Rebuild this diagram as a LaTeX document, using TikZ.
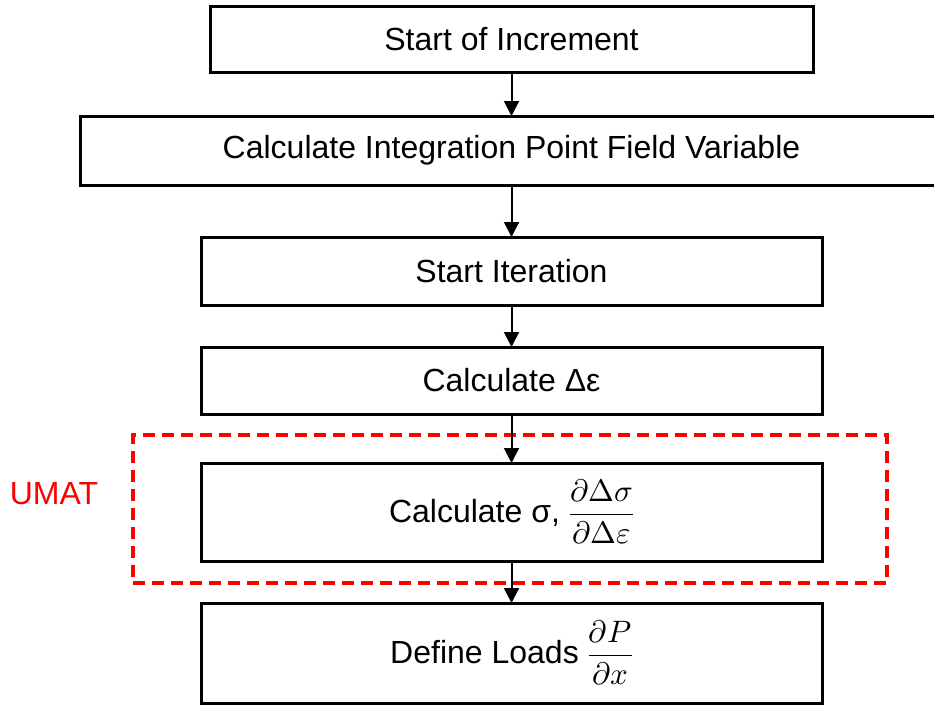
\documentclass[tikz,border=0pt]{standalone}
\usepackage{fontspec}
\usepackage{unicode-math}
\setmainfont{Liberation Sans}
\setmathfont{Latin Modern Math}
\usetikzlibrary{arrows.meta}
\tikzset{stepbox/.style={draw, line width=3pt, minimum height=#1, inner sep=0pt, outer sep=0pt, font=\fontsize{32}{38}\selectfont}}
\tikzset{stepbox/.default=67pt}
\tikzset{flow/.style={line width=2pt, -{Triangle[width=15pt, length=15pt]}}}
\tikzset{umatbox/.style={draw=red, line width=4pt, dash pattern=on 12pt off 7pt}}
\newcommand{\bigfrac}[2]{{\fontsize{31}{36}\selectfont$\displaystyle\frac{#1}{#2}$}}

\begin{document}
\begin{tikzpicture}[x=1pt, y=-1pt]
    \useasboundingbox (0, 0) rectangle (934, 705);
    \node[stepbox=66pt, minimum width=603pt] (start) at (511.5, 39) {Start of Increment};
    \node[stepbox=69pt, minimum width=863pt] (field) at (511.5, 150.5) {Calculate Integration Point Field Variable};
    \node[stepbox=68pt, minimum width=621pt] (iter) at (511.5, 271) {Start Iteration};
    \node[stepbox, minimum width=621pt] (strain) at (511.5, 380.5) {Calculate Δε};
    \node[umatbox, minimum width=754pt, minimum height=148pt] (umat) at (510, 509) {};
    \node[text=red, font=\fontsize{32}{38}\selectfont] (umatlabel) at (54, 494) {UMAT};
    \node[stepbox=98pt, minimum width=621pt] (stress) at (511.5, 512) {Calculate σ, \bigfrac{\partial\mitDelta\sigma}{\partial\mitDelta\varepsilon}};
    \node[stepbox=100pt, minimum width=621pt] (loads) at (511.5, 653) {Define Loads \bigfrac{\partial P}{\partial x}};
    \draw[flow] (start) -- (field);
    \draw[flow] (field) -- (iter);
    \draw[flow] (iter) -- (strain);
    \draw[flow] (strain) -- (stress);
    \draw[flow] (stress) -- (loads);
\end{tikzpicture}
\end{document}
